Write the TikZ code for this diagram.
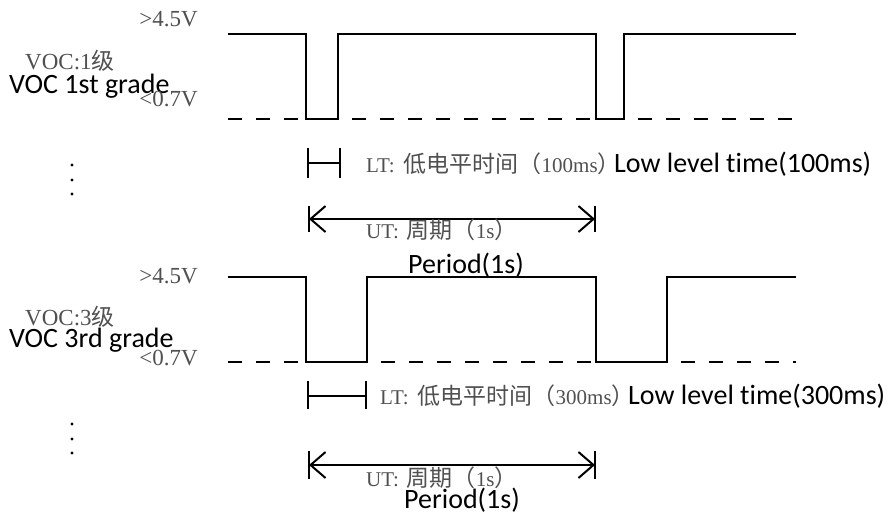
\documentclass[tikz,border=0pt]{standalone}
\usepackage{fontspec}
\setmainfont{Liberation Serif}
\newfontfamily\cjkfont{Noto Sans CJK SC}
\newfontfamily\calfont[Ligatures=NoCommon]{Carlito}
\usetikzlibrary{arrows.meta}
\definecolor{txtgray}{RGB}{80,80,80}
\newcommand\zh[1]{{\cjkfont\fontsize{23}{25}\selectfont #1}}
\tikzset{
  gl/.style={text=txtgray, font=\fontsize{21}{23}\selectfont, inner sep=0pt},
  glbig/.style={text=txtgray, font=\fontsize{23}{25}\selectfont, inner sep=0pt},
  en/.style={text=black, font=\calfont\fontsize{28}{30}\selectfont, inner sep=0pt, anchor=base west},
  wave/.style={line width=2.6pt, line join=miter, line cap=butt},
  lowdash/.style={line width=2.6pt, dash pattern=on 14pt off 14pt},
  marker/.style={line width=2.5pt},
  dimarrow/.style={line width=2pt, {Straight Barb[length=15pt,width=26pt]}-{Straight Barb[length=15pt,width=26pt]}},
  dot/.style={fill=black}
}
\begin{document}
\begin{tikzpicture}[x=1pt,y=-1pt]
\useasboundingbox (0,0) rectangle (890,515);

% ---------- labels, VOC 1 ----------
\node[glbig, anchor=base east] (hiA) at (198,26) {>4.5V};
\node[glbig, anchor=base west] (vocA) at (25,69) {VOC:1\zh{级}};
\node[en] (gradeA) at (9,93) {VOC 1st grade};
\node[glbig, anchor=base east] (loA) at (198,106) {<0.7V};

% ---------- waveform VOC 1 ----------
\coordinate (a0) at (228,34);
\coordinate (a1) at (306,34);
\coordinate (a2) at (306,119);
\coordinate (a3) at (338,119);
\coordinate (a4) at (338,34);
\coordinate (a5) at (596,34);
\coordinate (a6) at (596,119);
\coordinate (a7) at (624,119);
\coordinate (a8) at (624,34);
\coordinate (a9) at (796,34);
\coordinate (al0) at (228,119);
\coordinate (al9) at (796,119);
\draw[wave] (a0) -- (a1) -- (a2) -- (a3) -- (a4) -- (a5) -- (a6) -- (a7) -- (a8) -- (a9);
\draw[lowdash] (al0) -- (a2);
\draw[lowdash, dash phase=14pt] (a3) -- (a6);
\draw[lowdash, dash phase=14pt] (a7) -- (al9);

% dots
\fill[dot] (72,165) circle (1.7);
\fill[dot] (72,180) circle (1.7);
\fill[dot] (72,194) circle (1.7);

% LT marker 1
\coordinate (lta1) at (308,148);
\coordinate (lta2) at (308,178);
\coordinate (ltb1) at (340,148);
\coordinate (ltb2) at (340,178);
\coordinate (ltam) at (308,163);
\coordinate (ltbm) at (340,163);
\draw[marker] (lta1) -- (lta2);
\draw[marker] (ltb1) -- (ltb2);
\draw[marker] (ltam) -- (ltbm);
\node[gl, anchor=base west] (ltA) at (366,172) {LT:\hspace{9pt}\zh{低电平时间（}100ms\zh{）}};
\node[en] (lowA) at (614,172) {Low level time(100ms)};

% UT arrow 1
\coordinate (uta1) at (309,206);
\coordinate (uta2) at (309,232);
\coordinate (utb1) at (595,206);
\coordinate (utb2) at (595,232);
\coordinate (utam) at (309,219);
\coordinate (utbm) at (595,219);
\draw[marker] (uta1) -- (uta2);
\draw[marker] (utb1) -- (utb2);
\draw[dimarrow] (utam) -- (utbm);
\node[gl, anchor=base west] (utA) at (366,238) {UT:\hspace{8pt}\zh{周期（}1s\zh{）}};
\node[en] (perA) at (408,273) {Period(1s)};

% ---------- labels, VOC 3 ----------
\node[glbig, anchor=base east] (hiB) at (198,283) {>4.5V};
\node[glbig, anchor=base west] (vocB) at (25,325) {VOC:3\zh{级}};
\node[en] (gradeB) at (9,347) {VOC 3rd grade};
\node[glbig, anchor=base east] (loB) at (198,365) {<0.7V};

% ---------- waveform VOC 3 ----------
\coordinate (b0) at (228,277);
\coordinate (b1) at (306,277);
\coordinate (b2) at (306,362);
\coordinate (b3) at (367,362);
\coordinate (b4) at (367,277);
\coordinate (b5) at (596,277);
\coordinate (b6) at (596,362);
\coordinate (b7) at (667,362);
\coordinate (b8) at (667,277);
\coordinate (b9) at (796,277);
\coordinate (bl0) at (228,362);
\coordinate (bl9) at (796,362);
\draw[wave] (b0) -- (b1) -- (b2) -- (b3) -- (b4) -- (b5) -- (b6) -- (b7) -- (b8) -- (b9);
\draw[lowdash] (bl0) -- (b2);
\draw[lowdash, dash phase=14pt] (b3) -- (b6);
\draw[lowdash, dash phase=14pt] (b7) -- (bl9);

% dots
\fill[dot] (72,424) circle (1.7);
\fill[dot] (72,439) circle (1.7);
\fill[dot] (72,453) circle (1.7);

% LT marker 3
\coordinate (ltc1) at (308,381);
\coordinate (ltc2) at (308,409);
\coordinate (ltd1) at (366,381);
\coordinate (ltd2) at (366,409);
\coordinate (ltcm) at (308,396);
\coordinate (ltdm) at (366,396);
\draw[marker] (ltc1) -- (ltc2);
\draw[marker] (ltd1) -- (ltd2);
\draw[marker] (ltcm) -- (ltdm);
\node[gl, anchor=base west] (ltB) at (380,404) {LT:\hspace{9pt}\zh{低电平时间（}300ms\zh{）}};
\node[en] (lowB) at (628,404) {Low level time(300ms)};

% UT arrow 3
\coordinate (utc1) at (309,451);
\coordinate (utc2) at (309,479);
\coordinate (utd1) at (595,451);
\coordinate (utd2) at (595,479);
\coordinate (utcm) at (309,465);
\coordinate (utdm) at (595,465);
\draw[marker] (utc1) -- (utc2);
\draw[marker] (utd1) -- (utd2);
\draw[dimarrow] (utcm) -- (utdm);
\node[gl, anchor=base west] (utB) at (366,486) {UT:\hspace{8pt}\zh{周期（}1s\zh{）}};
\node[en] (perB) at (404,508) {Period(1s)};
\end{tikzpicture}
\end{document}
